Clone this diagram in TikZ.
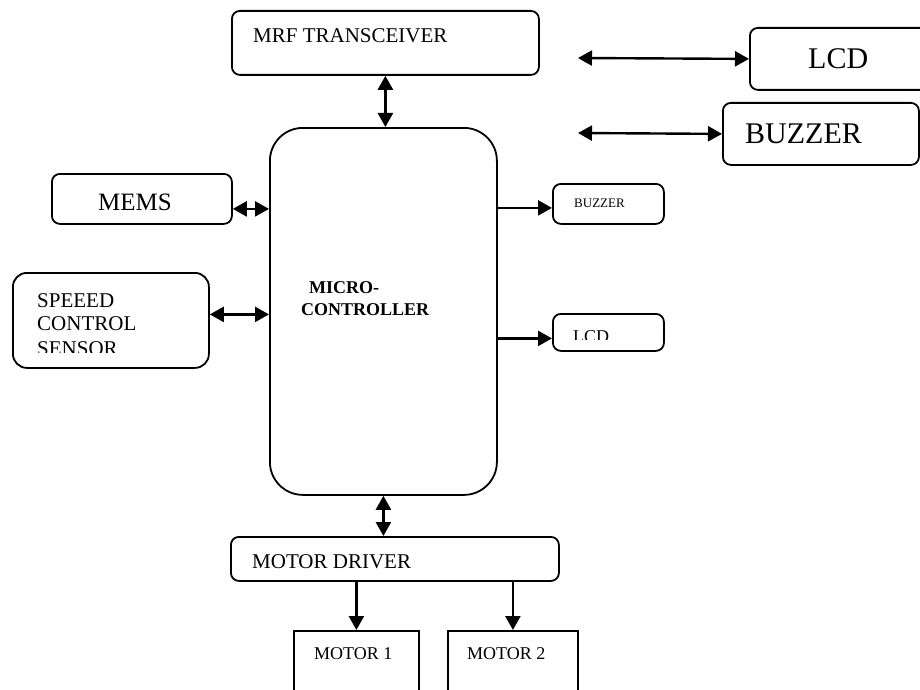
\documentclass[tikz,border=0pt]{standalone}
\usepackage{fontspec}
\setmainfont{Liberation Serif}
\usetikzlibrary{arrows,arrows.meta,positioning}

\begin{document}
\begin{tikzpicture}[x=1pt,y=-1pt,
  >={Triangle[length=14pt,width=15pt]},
  box/.style={draw, line width=1.8pt, rounded corners=8pt, anchor=north west, inner sep=0pt},
  plain/.style={draw, line width=1.8pt, anchor=north west, inner sep=0pt},
  txt/.style={anchor=base west, inner sep=0pt, font=\fontsize{#1pt}{#1pt}\selectfont},
  link/.style={line width=2.4pt}]
\useasboundingbox (0,0) rectangle (920,690);

\node (MRF) [box, minimum width=307pt, minimum height=64pt] at (231,10) {};
\node (LCD) [box, minimum width=178pt, minimum height=62pt] at (749,27) {};
\node (BUZ) [box, minimum width=196pt, minimum height=62pt] at (722,102) {};
\node (MEMS) [box, minimum width=180pt, minimum height=50pt] at (51,173) {};
\node (SCS) [box, rounded corners=14pt, minimum width=196pt, minimum height=95pt] at (12,272) {};
\node (MC) [box, rounded corners=33pt, minimum width=227pt, minimum height=367pt] at (269,127) {};
\node (bz) [box, minimum width=111pt, minimum height=40pt] at (552,183) {};
\node (lcd) [box, minimum width=111pt, minimum height=37pt] at (552,313) {};
\node (MD) [box, minimum width=328pt, minimum height=44pt] at (230,536) {};
\node (M1) [plain, minimum width=125pt, minimum height=90pt] at (293,630) {};
\node (M2) [plain, minimum width=130pt, minimum height=90pt] at (447,630) {};

\node (tMRF) [txt=21] at (253,43) {MRF TRANSCEIVER};
\node (tLCD) [txt=30] at (808,69) {LCD};
\node (tBUZ) [txt=30] at (745,143) {BUZZER};
\node (tMEMS) [txt=25] at (98,210) {MEMS};
\node (tSCS1) [txt=21] at (37,307) {SPEEED};
\node (tSCS2) [txt=21] at (37,330) {CONTROL};
\begin{scope}
\clip (12,332) rectangle (208,352);
\node (tSCS3) [txt=21] at (37,355) {SENSOR};
\end{scope}
\node (tbz) [txt=13] at (574,207) {BUZZER};
\begin{scope}
\clip (552,318) rectangle (663,339);
\node (tlcd) [txt=18] at (573,342) {LCD};
\end{scope}
\node (tMC1) [txt=18] at (309,293) {\bfseries MICRO-};
\node (tMC2) [txt=18] at (301,315) {\bfseries CONTROLLER};
\node (tMD) [txt=21] at (252,568) {MOTOR DRIVER};
\node (tM1) [txt=18] at (314,659) {MOTOR 1};
\node (tM2) [txt=18] at (467,659) {MOTOR 2};

\coordinate (lcdEnd) at (578,58);
\coordinate (buzEnd) at (578,133);
\coordinate (memsP) at ([yshift=-10pt]MEMS.east);
\coordinate (scsP) at ([yshift=6pt]SCS.east);
\coordinate (bzP) at ([yshift=-4pt]bz.west);
\coordinate (lcdP) at ([yshift=-6pt]lcd.west);

\draw[link,<->] (MRF.south) -- (MRF.south |- MC.north);
\draw[link,<->] (lcdEnd) -- (LCD.west);
\draw[link,<->] (buzEnd) -- (BUZ.west);
\draw[link,<->] (memsP) -- (memsP -| MC.west);
\draw[link,<->] (scsP) -- (scsP -| MC.west);
\draw[link,->] (bzP -| MC.east) -- (bzP);
\draw[link,->] (lcdP -| MC.east) -- (lcdP);
\draw[link,<->] (MC.south) -- (MC.south |- MD.north);
\draw[link,->] (M1.north |- MD.south) -- (M1.north);
\draw[link,->] (M2.north |- MD.south) -- (M2.north);

\end{tikzpicture}
\end{document}
